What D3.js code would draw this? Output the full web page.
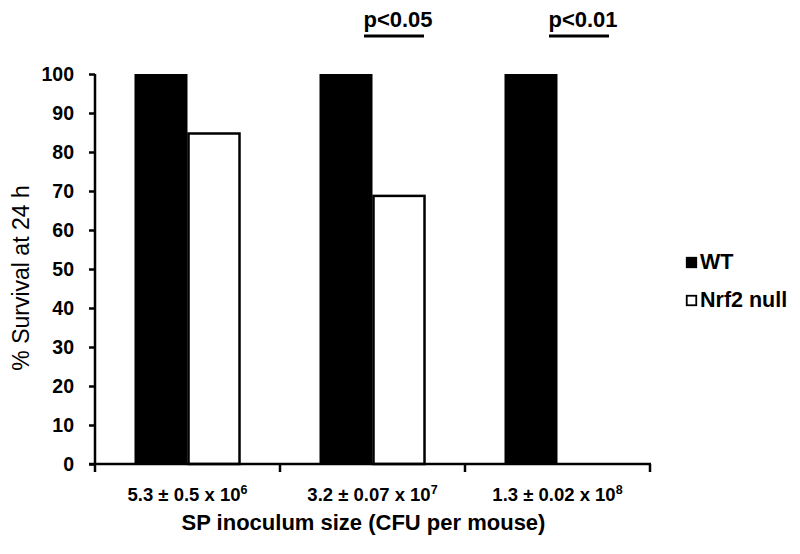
<!DOCTYPE html>
<html>
<head>
<meta charset="utf-8">
<script src="https://cdn.jsdelivr.net/npm/d3@7"></script>
<style>
html,body{margin:0;padding:0;background:#fff;}
svg{display:block;font-family:Arial,"Liberation Sans",sans-serif;}
</style>
</head>
<body>
<svg id="chart" width="800" height="554"></svg>
<script>
const categories = ["5.3 ± 0.5 x 10|6", "3.2 ± 0.07 x 10|7", "1.3 ± 0.02 x 10|8"];
const seriesNames = ["WT", "Nrf2 null"];
const wtValues = [100, 100, 100];
const nrf2Values = [85, 69, 0];
const yTicks = [0, 10, 20, 30, 40, 50, 60, 70, 80, 90, 100];
const sigLabels = [null, "p<0.05", "p<0.01"];
const yTitle = "% Survival at 24 h";
const xTitle = "SP inoculum size (CFU per mouse)";

(function(){
const svg = d3.select("#chart");
const mLeft = 95, mRight = 650, mTop = 74, mBottom = 464;

const x = d3.scaleBand().domain(categories).range([mLeft, mRight]).paddingInner(0).paddingOuter(0);
const xSub = d3.scaleBand().domain(seriesNames).range([0, x.bandwidth()]).paddingInner(0).paddingOuter(0.745);
const y = d3.scaleLinear().domain([0, 100]).range([mBottom, mTop]);

const data = categories.map((c, i) => ({cat: c, values: [
  {name: "WT", v: wtValues[i]}, {name: "Nrf2 null", v: nrf2Values[i]}]}));

const g = svg.append("g");
data.forEach(d => {
  d.values.forEach(s => {
    if (s.v <= 0) return;
    const isWT = s.name === "WT";
    g.append("rect")
      .attr("x", x(d.cat) + xSub(s.name) + (isWT ? 0 : 1))
      .attr("y", y(s.v) + (isWT ? 0 : 1))
      .attr("width", xSub.bandwidth() - (isWT ? 0 : 2))
      .attr("height", y(0) - y(s.v) - (isWT ? 0 : 1))
      .attr("fill", isWT ? "#000" : "#fff")
      .attr("stroke", "#000")
      .attr("stroke-width", isWT ? 0 : 2.5);
  });
});

const yAxis = d3.axisLeft(y).tickValues(yTicks).tickSize(6).tickSizeOuter(0).tickPadding(15);
const ya = svg.append("g").attr("transform", `translate(${mLeft},0)`).call(yAxis);
ya.select(".domain").attr("stroke", "#000").attr("stroke-width", 2.5).attr("d", `M0,${mTop}V${mBottom+1}`);
ya.selectAll(".tick line").attr("stroke", "#000").attr("stroke-width", 2.5);
ya.selectAll(".tick text").attr("font-size", 19.5).attr("font-weight", "bold").attr("fill", "#000")
  .attr("font-family", "Arial, 'Liberation Sans', sans-serif");

const xa = svg.append("g").attr("transform", `translate(0,${mBottom})`);
xa.append("line").attr("x1", mLeft - 6).attr("x2", mRight + 1).attr("y1", 0).attr("y2", 0)
  .attr("stroke", "#000").attr("stroke-width", 2.5);
const xTickPos = categories.map(c => x(c)).concat([x(categories[categories.length-1]) + x.bandwidth()]);
xTickPos.forEach(p => {
  xa.append("line").attr("x1", p).attr("x2", p).attr("y1", 0).attr("y2", 8)
    .attr("stroke", "#000").attr("stroke-width", 2.5);
});
categories.forEach(c => {
  const [base, exp] = c.split("|");
  const t = xa.append("text")
    .attr("x", x(c) + x.bandwidth() / 2)
    .attr("y", 37)
    .attr("text-anchor", "middle")
    .attr("font-size", 18.5).attr("font-weight", "bold").attr("fill", "#000");
  t.append("tspan").text(base);
  t.append("tspan").text(exp).attr("font-size", 12.5).attr("dy", -7);
});

svg.append("text").attr("x", (mLeft + mRight) / 2 - 9).attr("y", 530)
  .attr("text-anchor", "middle").attr("font-size", 22).attr("font-weight", "bold").text(xTitle);
svg.append("text").attr("transform", `translate(29,${(mTop + mBottom) / 2 + 9}) rotate(-90)`)
  .attr("text-anchor", "middle").attr("font-size", 23).text(yTitle);

categories.forEach((c, i) => {
  if (!sigLabels[i]) return;
  const cx = x(c) + xSub("Nrf2 null") + xSub.bandwidth() / 2 - 5;
  svg.append("line").attr("x1", cx - 30).attr("x2", cx + 30).attr("y1", 36).attr("y2", 36)
    .attr("stroke", "#000").attr("stroke-width", 3);
  svg.append("text").attr("x", cx + 4).attr("y", 27).attr("text-anchor", "middle")
    .attr("font-size", 22).attr("font-weight", "bold").text(sigLabels[i]);
});

const legend = svg.append("g").attr("transform", "translate(686,257)");
seriesNames.forEach((n, i) => {
  const lg = legend.append("g").attr("transform", `translate(0,${i * 38})`);
  lg.append("rect").attr("x", 0.75).attr("y", 0.75).attr("width", 9.5).attr("height", 9.5)
    .attr("fill", i === 0 ? "#000" : "#fff").attr("stroke", "#000").attr("stroke-width", 1.8);
  lg.append("text").attr("x", 14).attr("y", 12).attr("font-size", 21.5).attr("font-weight", "bold").text(n);
});
})();
</script>
</body>
</html>
